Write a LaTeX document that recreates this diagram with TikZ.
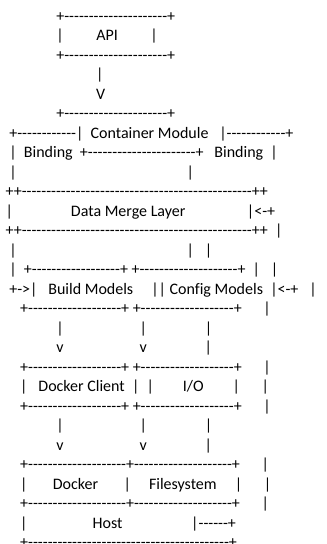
\documentclass[tikz,border=0pt]{standalone}
\usepackage{fontspec}
\newfontfamily\artfont{Carlito}[Ligatures={TeXOff,CommonOff}]

% runs of blanks and hyphens inside a text row
\newcommand\gap[1]{\hspace*{#1\fontdimen2\font}}
\newcommand\dashes[1]{\foreach\n in {1,...,#1}{-}}

\begin{document}
\begin{tikzpicture}[
  x=0.75pt, y=-0.75pt,
  row/.style={anchor=base west, inner sep=0pt, outer sep=0pt,
              font=\artfont\fontsize{12pt}{14.6pt}\selectfont}
]
\fill[white] (0,0) rectangle (326,544);
\useasboundingbox (0,0) rectangle (326,544);

% API on top
\node[row] (r1) at (-1.5,21.3) {\gap{16}+\dashes{21}+};
\node[row] (r2) at (-1.5,40.8) {\gap{16}|\gap{9}API\gap{9}|};
\node[row] (r3) at (-1.5,60.3) {\gap{16}+\dashes{21}+};
\node[row] (r4) at (-1.5,79.8) {\gap{27}|};
\node[row] (r5) at (-1.5,99.3) {\gap{27}V};

% container module and its bindings
\node[row] (r6) at (-1.5,118.8) {\gap{16}+\dashes{21}+};
\node[row] (r7) at (-1.5,138.3) {\gap{3}+\dashes{12}|\gap{2}Container Module\gap{3}|\dashes{12}+};
\node[row] (r8) at (-1.5,157.8) {\gap{3}|\gap{2}Binding\gap{2}+\dashes{22}+\gap{3}Binding\gap{2}|};
\node[row] (r9) at (-1.5,177.3) {\gap{3}|\gap{47}|};

% data merge layer
\node[row] (r10) at (-1.5,196.8) {\gap{2}++\dashes{47}++};
\node[row] (r11) at (-1.5,216.3) {\gap{2}|\gap{16}Data Merge Layer\gap{17}|<-+};
\node[row] (r12) at (-1.5,235.8) {\gap{2}++\dashes{47}++\gap{2}|};
\node[row] (r13) at (-1.5,255.3) {\gap{3}|\gap{47}|\gap{3}|};

% build / config models
\node[row] (r14) at (-1.5,274.8) {\gap{3}|\gap{2}+\dashes{18}+\gap{1}+\dashes{20}+\gap{2}|\gap{3}|};
\node[row] (r15) at (-1.5,294.3) {\gap{3}+->|\gap{3}Build Models\gap{5}||\gap{1}Config Models\gap{2}|<-+\gap{3}|};
\node[row] (r16) at (-1.5,313.8) {\gap{6}+\dashes{19}+\gap{1}+\dashes{19}+\gap{6}|};
\node[row] (r17) at (-1.5,333.3) {\gap{16}|\gap{21}|\gap{16}|};
\node[row] (r18) at (-1.5,352.8) {\gap{16}v\gap{21}v\gap{16}|};

% docker client and I/O
\node[row] (r19) at (-1.5,372.3) {\gap{6}+\dashes{19}+\gap{1}+\dashes{19}+\gap{6}|};
\node[row] (r20) at (-1.5,391.8) {\gap{6}|\gap{3}Docker Client\gap{2}|\gap{2}|\gap{8}I/O\gap{8}|\gap{6}|};
\node[row] (r21) at (-1.5,411.3) {\gap{6}+\dashes{19}+\gap{1}+\dashes{19}+\gap{6}|};
\node[row] (r22) at (-1.5,430.8) {\gap{16}|\gap{21}|\gap{16}|};
\node[row] (r23) at (-1.5,450.3) {\gap{16}v\gap{21}v\gap{16}|};

% docker, filesystem, host
\node[row] (r24) at (-1.5,469.8) {\gap{6}+\dashes{20}+\dashes{20}+\gap{6}|};
\node[row] (r25) at (-1.5,489.3) {\gap{6}|\gap{7}Docker\gap{7}|\gap{5}Filesystem\gap{5}|\gap{6}|};
\node[row] (r26) at (-1.5,508.8) {\gap{6}+\dashes{20}+\dashes{20}+\gap{6}|};
\node[row] (r27) at (-1.5,528.3) {\gap{6}|\gap{18}Host\gap{19}|\dashes{6}+};
\node[row] (r28) at (-1.5,547.8) {\gap{6}+\dashes{41}+};
\end{tikzpicture}
\end{document}
